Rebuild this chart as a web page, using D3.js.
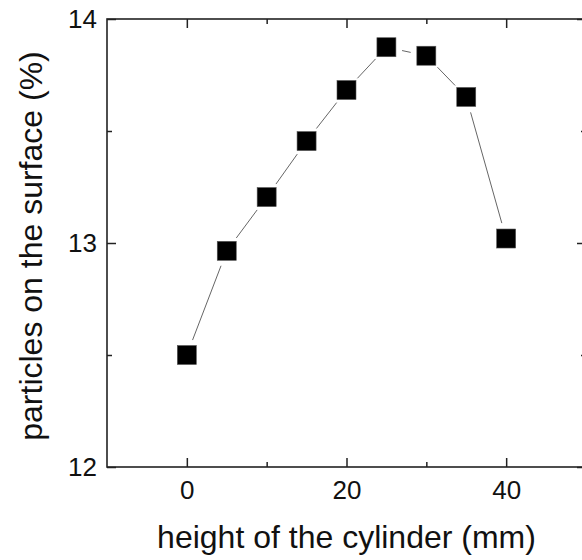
<!DOCTYPE html>
<html>
<head>
<meta charset="utf-8">
<script src="https://cdn.jsdelivr.net/npm/d3@7"></script>
<style>
  body { margin: 0; background: #fff; }
  svg { display: block; font-family: "Liberation Sans", Arial, sans-serif; }
</style>
</head>
<body>
<script>
// data
var heights = [0, 5, 10, 15, 20, 25, 30, 35, 40];
var particles = [12.50, 12.965, 13.205, 13.455, 13.683, 13.874, 13.836, 13.652, 13.02];
var xMajorTicks = [0, 20, 40];
var xMinorTicks = [10, 30];
var yMajorTicks = [12, 13, 14];
var yMinorTicks = [12.5, 13.5];

var W = 582, H = 560;
// plot box edges (right edge falls just outside the window, as in the original)
var plotLeft = 107, plotRight = 586, plotTop = 19, plotBottom = 467;

var svg = d3.select("body").append("svg")
    .attr("width", W)
    .attr("height", H);

var x = d3.scaleLinear().domain([-10, 50]).range([plotLeft, plotRight]);
var y = d3.scaleLinear().domain([12, 14]).range([plotBottom, plotTop]);

var axisColor = "#222";

// bottom axis (labels + inward ticks)
var gx = svg.append("g")
    .attr("transform", "translate(0," + plotBottom + ")")
    .call(d3.axisBottom(x).tickValues(xMajorTicks).tickSizeInner(-9).tickSizeOuter(0).tickPadding(14).tickFormat(d3.format("d")));
gx.append("g").call(d3.axisBottom(x).tickValues(xMinorTicks).tickSizeInner(-5).tickSizeOuter(0).tickFormat(""));

// top axis, ticks only
var gxt = svg.append("g")
    .attr("transform", "translate(0," + plotTop + ")")
    .call(d3.axisTop(x).tickValues(xMajorTicks).tickSizeInner(-9).tickSizeOuter(0).tickFormat(""));
gxt.append("g").call(d3.axisTop(x).tickValues(xMinorTicks).tickSizeInner(-5).tickSizeOuter(0).tickFormat(""));

// left axis
var gy = svg.append("g")
    .attr("transform", "translate(" + plotLeft + ",0)")
    .call(d3.axisLeft(y).tickValues(yMajorTicks).tickSizeInner(-9).tickSizeOuter(0).tickPadding(10).tickFormat(d3.format("d")));
gy.append("g").call(d3.axisLeft(y).tickValues(yMinorTicks).tickSizeInner(-5).tickSizeOuter(0).tickFormat(""));

// right axis, ticks only
var gyr = svg.append("g")
    .attr("transform", "translate(" + plotRight + ",0)")
    .call(d3.axisRight(y).tickValues(yMajorTicks).tickSizeInner(-9).tickSizeOuter(0).tickFormat(""));
gyr.append("g").call(d3.axisRight(y).tickValues(yMinorTicks).tickSizeInner(-5).tickSizeOuter(0).tickFormat(""));

svg.selectAll(".domain").remove();
svg.selectAll(".tick line").attr("stroke", axisColor).attr("stroke-width", 1.5);
svg.selectAll(".tick text").attr("fill", "#111").style("font-size", "26px").style("font-family", "'Liberation Sans', Arial, sans-serif");

// frame
svg.append("rect")
    .attr("x", plotLeft).attr("y", plotTop)
    .attr("width", plotRight - plotLeft).attr("height", plotBottom - plotTop)
    .attr("fill", "none")
    .attr("stroke", axisColor)
    .attr("stroke-width", 1.6);

var pts = heights.map(function(d, i) { return {h: d, p: particles[i]}; });

// connecting line, broken around the markers
var gap = 16;
var segs = [];
for (var i = 0; i < pts.length - 1; i++) {
  var x0 = x(pts[i].h), y0 = y(pts[i].p), x1 = x(pts[i + 1].h), y1 = y(pts[i + 1].p);
  var len = Math.sqrt((x1 - x0) * (x1 - x0) + (y1 - y0) * (y1 - y0));
  var ux = (x1 - x0) / len, uy = (y1 - y0) / len;
  if (len > 2 * gap) segs.push([x0 + ux * gap, y0 + uy * gap, x1 - ux * gap, y1 - uy * gap]);
}
svg.selectAll(".seg")
    .data(segs)
    .enter().append("line")
    .attr("class", "seg")
    .attr("x1", function(d) { return d[0]; })
    .attr("y1", function(d) { return d[1]; })
    .attr("x2", function(d) { return d[2]; })
    .attr("y2", function(d) { return d[3]; })
    .attr("stroke", "#666")
    .attr("stroke-width", 1);

// square markers
var ms = 19;
svg.selectAll(".dot")
    .data(pts)
    .enter().append("rect")
    .attr("class", "dot")
    .attr("x", function(d) { return x(d.h) - ms / 2; })
    .attr("y", function(d) { return y(d.p) - ms / 2; })
    .attr("width", ms)
    .attr("height", ms)
    .attr("fill", "#000")
    .attr("stroke", "#555")
    .attr("stroke-width", 0.6);

// axis titles
svg.append("text")
    .attr("x", (plotLeft + plotRight) / 2)
    .attr("y", 548)
    .attr("text-anchor", "middle")
    .style("font-size", "32px")
    .attr("fill", "#111")
    .text("height of the cylinder (mm)");

svg.append("text")
    .attr("transform", "translate(42,246) rotate(-90)")
    .attr("text-anchor", "middle")
    .style("font-size", "32px")
    .attr("fill", "#111")
    .text("particles on the surface (%)");
</script>
</body>
</html>
